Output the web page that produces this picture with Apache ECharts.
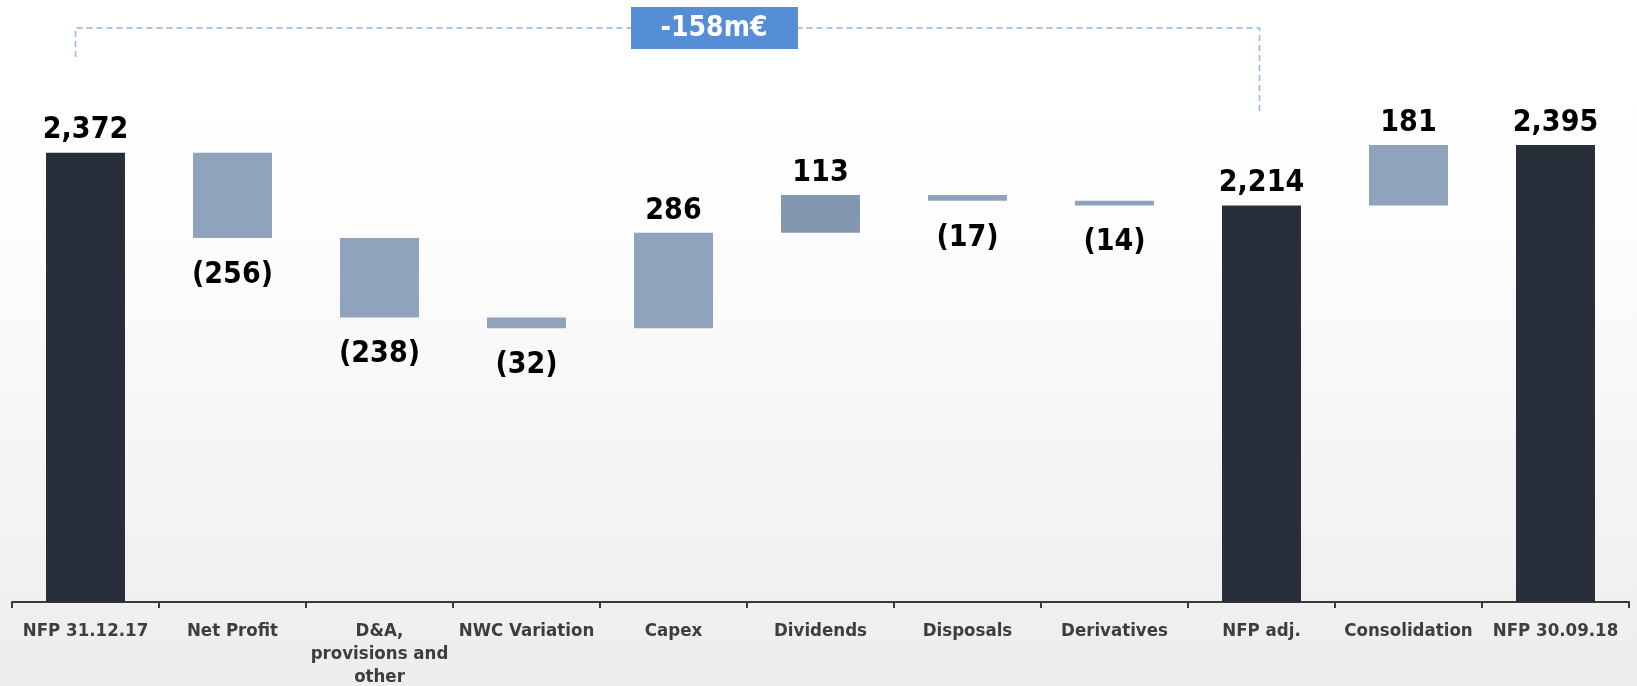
<!DOCTYPE html>
<html>
<head>
<meta charset="utf-8" />
<title>NFP bridge</title>
<script src="https://cdn.jsdelivr.net/npm/echarts@6/dist/echarts.min.js"></script>
<style>
  html, body { margin: 0; padding: 0; }
  #main { width: 1637px; height: 686px; }
</style>
</head>
<body>
<div id="main"></div>
<script>
// bridge data (m€)
var categories = ['NFP 31.12.17', 'Net Profit', 'D&A,\nprovisions and\nother', 'NWC Variation', 'Capex',
                  'Dividends', 'Disposals', 'Derivatives', 'NFP adj.', 'Consolidation', 'NFP 30.09.18'];
var values = [2372, -256, -238, -32, 286, 113, -17, -14, 2214, 181, 2395];
var kinds = ['total', 'delta', 'delta', 'delta', 'delta', 'delta', 'delta', 'delta', 'total', 'delta', 'total'];
var bridgeLabel = '-158m€';
var bridgeFrom = 0, bridgeTo = 8;

var narrow = '"Liberation Sans Narrow", "DejaVu Sans Condensed", "Liberation Sans", sans-serif';

// running totals -> invisible base + visible part
var base = [], bars = [], running = 0;
for (var i = 0; i < values.length; i++) {
  if (kinds[i] == 'total') {
    base.push(0); bars.push(values[i]); running = values[i];
  } else if (values[i] >= 0) {
    base.push(running); bars.push(values[i]); running += values[i];
  } else {
    running += values[i]; base.push(running); bars.push(-values[i]);
  }
}

function fmt(n) {
  return String(n).replace(/(\d)(?=(\d{3})+$)/g, '$1,');
}

var barData = [];
for (var i = 0; i < values.length; i++) {
  var neg = values[i] < 0;
  var col = kinds[i] == 'total' ? '#282e3a' : '#8fa3bc';
  if (categories[i] == 'Dividends') col = '#8497b0';
  barData.push({
    value: bars[i],
    itemStyle: { color: col },
    label: { position: neg ? 'bottom' : 'top', distance: neg ? 22 : 7 }
  });
}

var myChart = echarts.init(document.getElementById('main'));
var option = {
  animation: false,
  backgroundColor: new echarts.graphic.LinearGradient(0, 0, 0, 1, [
    { offset: 0, color: '#ffffff' },
    { offset: 0.3, color: '#fefefe' },
    { offset: 1, color: '#ededed' }
  ]),
  grid: { left: 12, right: 8, top: 110, bottom: 84, outerBoundsMode: 'none' },
  xAxis: {
    type: 'category',
    data: categories,
    axisLine: { lineStyle: { color: '#3a3a3a', width: 2 } },
    axisTick: { show: true, length: 6, lineStyle: { color: '#3a3a3a', width: 2 } },
    axisLabel: {
      interval: 0, margin: 18, fontSize: 18.5, fontWeight: 'bold', color: '#3d3d3d',
      fontFamily: narrow, lineHeight: 23
    }
  },
  yAxis: { type: 'value', show: false, min: 1025, max: 2500, splitLine: { show: false } },
  series: [
    {
      type: 'bar', stack: 'w', data: base, barWidth: 79,
      itemStyle: { color: 'transparent' }, silent: true
    },
    {
      type: 'bar', stack: 'w', data: barData, barWidth: 79,
      label: {
        show: true, fontSize: 30, fontWeight: 'bold', color: '#000', fontFamily: narrow,
        formatter: function (p) {
          var v = values[p.dataIndex];
          return v < 0 ? '(' + fmt(-v) + ')' : fmt(v);
        }
      }
    }
  ]
};
myChart.setOption(option);

// dashed bracket between the two NFP bars
var x1 = myChart.convertToPixel({ xAxisIndex: 0 }, bridgeFrom) - 10;
var x2 = myChart.convertToPixel({ xAxisIndex: 0 }, bridgeTo) - 2;
var dash = { stroke: '#8db4e2', lineWidth: 1.5, lineDash: [6, 4] };
myChart.setOption({
  graphic: [
    { type: 'polyline', shape: { points: [[x1, 57], [x1, 28], [x2, 28], [x2, 115]] }, style: dash, silent: true },
    { type: 'rect', shape: { x: 631, y: 7, width: 167, height: 42 }, style: { fill: '#558ed5' } },
    {
      type: 'text', x: 714, y: 29,
      style: {
        text: bridgeLabel, fill: '#ffffff', fontSize: 28, fontWeight: 'bold', fontFamily: narrow,
        align: 'center', verticalAlign: 'middle'
      }
    }
  ]
});
</script>
</body>
</html>
